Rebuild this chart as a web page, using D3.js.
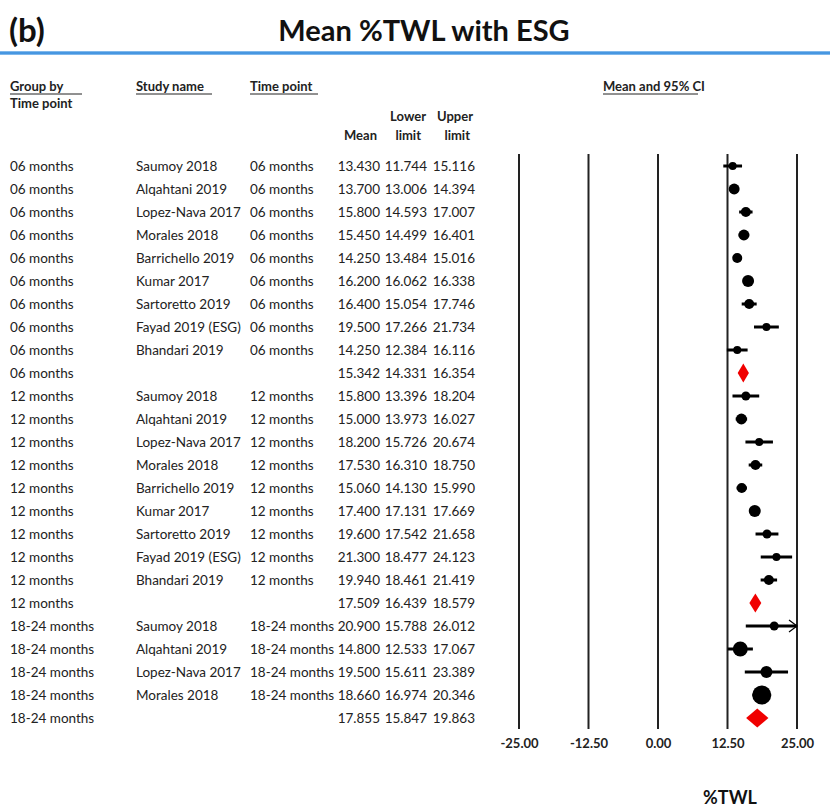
<!DOCTYPE html>
<html><head><meta charset="utf-8">
<script src="https://cdnjs.cloudflare.com/ajax/libs/d3/7.8.5/d3.min.js"></script>
<style>body{margin:0;background:#fff}svg{display:block}</style>
</head><body>
<svg id="c" width="830" height="809"></svg>
<script>
const groups = ["06 months","06 months","06 months","06 months","06 months","06 months","06 months","06 months","06 months","06 months",
"12 months","12 months","12 months","12 months","12 months","12 months","12 months","12 months","12 months","12 months",
"18-24 months","18-24 months","18-24 months","18-24 months","18-24 months"];
const studies = ["Saumoy 2018","Alqahtani 2019","Lopez-Nava 2017","Morales 2018","Barrichello 2019","Kumar 2017","Sartoretto 2019","Fayad 2019 (ESG)","Bhandari 2019","",
"Saumoy 2018","Alqahtani 2019","Lopez-Nava 2017","Morales 2018","Barrichello 2019","Kumar 2017","Sartoretto 2019","Fayad 2019 (ESG)","Bhandari 2019","",
"Saumoy 2018","Alqahtani 2019","Lopez-Nava 2017","Morales 2018",""];
const timePoints = ["06 months","06 months","06 months","06 months","06 months","06 months","06 months","06 months","06 months","",
"12 months","12 months","12 months","12 months","12 months","12 months","12 months","12 months","12 months","",
"18-24 months","18-24 months","18-24 months","18-24 months",""];
const means = [13.430,13.700,15.800,15.450,14.250,16.200,16.400,19.500,14.250,15.342,
15.800,15.000,18.200,17.530,15.060,17.400,19.600,21.300,19.940,17.509,
20.900,14.800,19.500,18.660,17.855];
const lowers = [11.744,13.006,14.593,14.499,13.484,16.062,15.054,17.266,12.384,14.331,
13.396,13.973,15.726,16.310,14.130,17.131,17.542,18.477,18.461,16.439,
15.788,12.533,15.611,16.974,15.847];
const uppers = [15.116,14.394,17.007,16.401,15.016,16.338,17.746,21.734,16.116,16.354,
18.204,16.027,20.674,18.750,15.990,17.669,21.658,24.123,21.419,18.579,
26.012,17.067,23.389,20.346,19.863];
// relative study weights (marker area)
const weights = [16,30,25,30,25,36,25,16,16,0,
20,30,16,25,25,36,20,16,25,0,
20,56,36,90,0];
const isSummary = [0,0,0,0,0,0,0,0,0,1,0,0,0,0,0,0,0,0,0,1,0,0,0,0,1];
const ticks = [-25,-12.5,0,12.5,25];

const svg = d3.select("#c");
const font = "Lato, 'Open Sans', sans-serif";
const txt = "#222";

const x = d3.scaleLinear().domain([-25,25]).range([519,797]);
const y = d3.scaleBand().domain(d3.range(means.length)).range([154.5,729.5]);
const r = d3.scaleSqrt().domain([0,100]).range([0,10]);

// title
svg.append("text").attr("x",9).attr("y",42).attr("font-family",font).attr("font-weight",700)
  .attr("font-size",33).attr("fill","#111").text("(b)");
svg.append("text").attr("x",424).attr("y",41).attr("text-anchor","middle").attr("font-family",font)
  .attr("font-weight",700).attr("font-size",29).attr("fill","#111").text("Mean %TWL with ESG");
const grad = svg.append("defs").append("linearGradient").attr("id","g").attr("x1",0).attr("x2",0).attr("y1",0).attr("y2",1);
grad.append("stop").attr("offset","0%").attr("stop-color","#9cc8f0");
grad.append("stop").attr("offset","50%").attr("stop-color","#2a86dc");
grad.append("stop").attr("offset","100%").attr("stop-color","#9cc8f0");
svg.append("rect").attr("x",0).attr("y",51).attr("width",830).attr("height",4).attr("fill","url(#g)");

// headers
function htext(xp, yp, s, opts={}) {
  return svg.append("text").attr("x",xp).attr("y",yp).attr("font-family",font).attr("font-weight",700)
    .attr("font-size",13).attr("fill",txt).attr("text-anchor",opts.anchor||"start").text(s);
}
function underline(x1,x2,yp){ svg.append("line").attr("x1",x1).attr("x2",x2).attr("y1",yp).attr("y2",yp).attr("stroke",txt).attr("stroke-width",1); }
htext(10,91,"Group by"); underline(10,82,94);
htext(10,108,"Time point");
htext(136,91,"Study name"); underline(136,212,94);
htext(250,91,"Time point"); underline(250,318,94);
htext(603,91,"Mean and 95% CI"); underline(603,698,94);
htext(426,121,"Lower",{anchor:"end"});
htext(473,121,"Upper",{anchor:"end"});
htext(377,140,"Mean",{anchor:"end"});
htext(421,140,"limit",{anchor:"end"});
htext(470,140,"limit",{anchor:"end"});

// table rows
const rows = svg.append("g").attr("font-family",font).attr("font-size",13.5).attr("fill",txt);
const fmt = d3.format(".3f");
means.forEach((m,i)=>{
  const yc = y(i)+y.bandwidth()/2+4.5;
  rows.append("text").attr("x",10).attr("y",yc).text(groups[i]);
  rows.append("text").attr("x",136).attr("y",yc).text(studies[i]);
  rows.append("text").attr("x",250).attr("y",yc).text(timePoints[i]);
  rows.append("text").attr("x",380).attr("y",yc).attr("text-anchor","end").text(fmt(m));
  rows.append("text").attr("x",427).attr("y",yc).attr("text-anchor","end").text(fmt(lowers[i]));
  rows.append("text").attr("x",475).attr("y",yc).attr("text-anchor","end").text(fmt(uppers[i]));
});

// grid lines and axis labels
const axis = d3.axisBottom(x).tickValues(ticks).tickFormat(d => d3.format(".2f")(d).replace("\u2212","-")).tickSize(0).tickPadding(10);
const ag = svg.append("g").attr("transform","translate(0,729)").call(axis);
ag.select(".domain").remove();
ag.selectAll("text").attr("font-family",font).attr("font-weight",700).attr("font-size",13).attr("fill",txt);
svg.append("g").selectAll("line").data(ticks).join("line")
  .attr("x1",d=>x(d)).attr("x2",d=>x(d)).attr("y1",154).attr("y2",729)
  .attr("stroke","#222").attr("stroke-width",2);

svg.append("text").attr("x",730).attr("y",804).attr("text-anchor","middle").attr("font-family",font)
  .attr("font-weight",700).attr("font-size",18).attr("fill","#111").text("%TWL");

// marks
const pg = svg.append("g");
const xmax = 25;
means.forEach((m,i)=>{
  const yc = y(i)+y.bandwidth()/2;
  if (isSummary[i]) {
    const h = 9.5;
    const pts = [[x(lowers[i]),yc],[x(m),yc-h],[x(uppers[i]),yc],[x(m),yc+h]];
    pg.append("path").attr("d",d3.line()(pts)+"Z").attr("fill","#f00000");
  } else {
    const up = Math.min(uppers[i], xmax);
    pg.append("line").attr("x1",x(lowers[i])).attr("x2",x(up)).attr("y1",yc).attr("y2",yc)
      .attr("stroke","#000").attr("stroke-width",3);
    if (uppers[i] > xmax) {
      pg.append("path").attr("d",d3.line()([[x(xmax)-8,yc-6],[x(xmax),yc],[x(xmax)-8,yc+6]]))
        .attr("fill","none").attr("stroke","#000").attr("stroke-width",1.2);
    }
    pg.append("circle").attr("cx",x(m)).attr("cy",yc).attr("r",r(weights[i])).attr("fill","#000");
  }
});
</script>
</body></html>
